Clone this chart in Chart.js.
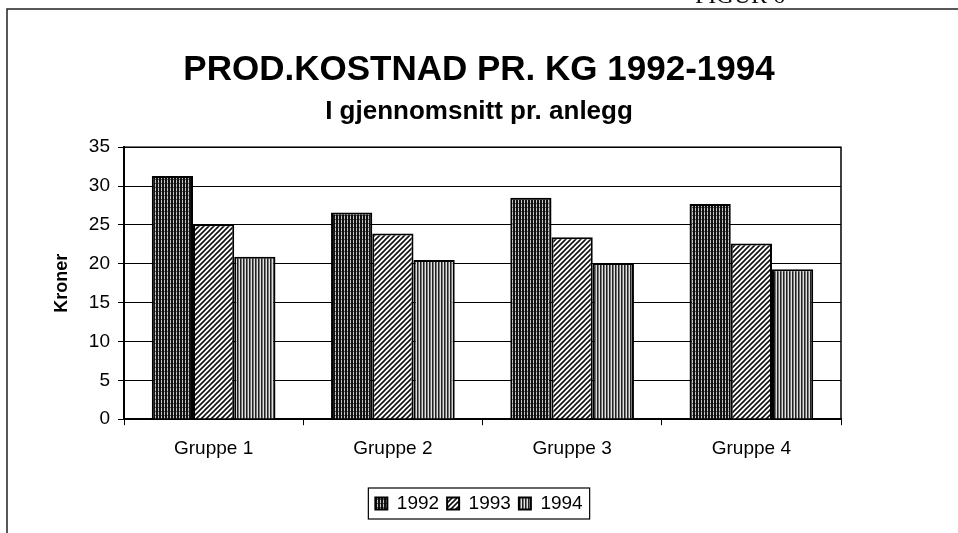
<!DOCTYPE html>
<html>
<head>
<meta charset="utf-8">
<script src="https://cdn.jsdelivr.net/npm/chart.js@4.4.1/dist/chart.umd.min.js"></script>
<style>
  html, body { margin: 0; padding: 0; background: #fff; }
  #wrap { width: 958px; height: 533px; position: relative; }
</style>
</head>
<body>
<div id="wrap"><canvas id="grafica"></canvas></div>
<script>
// data
const grupper = ['Gruppe 1', 'Gruppe 2', 'Gruppe 3', 'Gruppe 4'];
const aar = ['1992', '1993', '1994'];
const kost1992 = [31.3, 26.6, 28.5, 27.7];
const kost1993 = [25.1, 23.9, 23.4, 22.6];
const kost1994 = [20.9, 20.5, 20.1, 19.3];
const yTicks = [0, 5, 10, 15, 20, 25, 30, 35];

const FONT = 'Arial, "Liberation Sans", sans-serif';

// hatch patterns like the old b/w print
const lagMonster = (type) => {
    const c = document.createElement('canvas');
    const x = c.getContext('2d');
    if (type === 'tett') {
        c.width = 3; c.height = 4;
        x.fillStyle = '#c8c8c8'; x.fillRect(0, 0, 3, 4);
        x.fillStyle = '#111'; x.fillRect(0, 0, 2, 4);
        x.fillStyle = '#555'; x.fillRect(2, 3, 1, 1);
    } else if (type === 'skra') {
        c.width = 5; c.height = 5;
        x.fillStyle = '#fff'; x.fillRect(0, 0, 5, 5);
        x.strokeStyle = '#111'; x.lineWidth = 1.6;
        x.beginPath();
        x.moveTo(-1, 6); x.lineTo(6, -1);
        x.moveTo(-1, 1); x.lineTo(1, -1);
        x.moveTo(4, 6); x.lineTo(6, 4);
        x.stroke();
    } else {
        c.width = 3; c.height = 3;
        x.fillStyle = '#e0e0e0'; x.fillRect(0, 0, 3, 3);
        x.fillStyle = '#222'; x.fillRect(0, 0, 1, 3);
        x.fillStyle = '#777'; x.fillRect(1, 0, 1, 3);
    }
    return x.createPattern(c, 'repeat');
};

const rammePlugin = {
    id: 'ramme',
    beforeDraw(chart) {
        const ctx = chart.ctx;
        ctx.save();
        ctx.fillStyle = '#fff';
        ctx.fillRect(0, 0, chart.width, chart.height);
        // outer frame (left + top edge of the scanned page box)
        ctx.strokeStyle = '#222';
        ctx.lineWidth = 1.5;
        ctx.beginPath();
        ctx.moveTo(7, chart.height);
        ctx.lineTo(7, 9);
        ctx.lineTo(chart.width, 9);
        ctx.stroke();
        // cut off figure caption at the very top
        ctx.fillStyle = '#111';
        ctx.font = '24px "Liberation Serif", serif';
        ctx.textAlign = 'center';
        ctx.textBaseline = 'alphabetic';
        ctx.fillText('FIGUR 6', 740, 3);
        ctx.restore();
    },
    afterDraw(chart) {
        const ctx = chart.ctx;
        const a = chart.chartArea;
        ctx.save();
        ctx.strokeStyle = '#000';
        ctx.lineWidth = 1.5;
        ctx.strokeRect(a.left, a.top, a.right - a.left, a.bottom - a.top);
        // box round the legend
        const boxes = chart.legend.legendHitBoxes;
        if (boxes && boxes.length) {
            let l = Infinity, r = -Infinity, t = Infinity, b = -Infinity;
            boxes.forEach(h => {
                l = Math.min(l, h.left); r = Math.max(r, h.left + h.width);
                t = Math.min(t, h.top); b = Math.max(b, h.top + h.height);
            });
            ctx.lineWidth = 1.2;
            ctx.strokeRect(l - 7, t - 6, r - l + 14, b - t + 12);
        }
        ctx.restore();
    }
};

const ctx = document.getElementById('grafica').getContext('2d');
const grafica = new Chart(ctx, {
    type: 'bar',
    data: {
        labels: grupper,
        datasets: [
            { label: aar[0], data: kost1992, backgroundColor: lagMonster('tett'), borderColor: '#000', borderWidth: 2 },
            { label: aar[1], data: kost1993, backgroundColor: lagMonster('skra'), borderColor: '#000', borderWidth: 2 },
            { label: aar[2], data: kost1994, backgroundColor: lagMonster('linje'), borderColor: '#000', borderWidth: 2 }
        ]
    },
    options: {
        responsive: true,
        maintainAspectRatio: false,
        animation: false,
        datasets: { bar: { categoryPercentage: 0.69, barPercentage: 1.0 } },
        layout: { padding: { top: 39, left: 48, right: 48, bottom: 10 } },
        plugins: {
            title: {
                display: true,
                text: 'PROD.KOSTNAD PR. KG 1992-1994',
                color: '#000',
                font: { family: FONT, size: 35, weight: 'bold' },
                padding: { top: 10, bottom: 0 }
            },
            subtitle: {
                display: true,
                text: 'I gjennomsnitt pr. anlegg',
                color: '#000',
                font: { family: FONT, size: 26, weight: 'bold' },
                padding: { top: 5, bottom: 20 }
            },
            legend: {
                position: 'bottom',
                labels: {
                    color: '#000',
                    font: { family: FONT, size: 19 },
                    boxWidth: 12,
                    boxHeight: 12,
                    padding: 8
                }
            },
            tooltip: { enabled: false }
        },
        scales: {
            x: {
                afterFit: (s) => { s.height += 14; },
                grid: { display: true, drawOnChartArea: false, drawTicks: true, tickLength: 6, color: '#000', offset: true },
                border: { color: '#000', width: 2 },
                ticks: { color: '#000', font: { family: FONT, size: 19 }, padding: 12 }
            },
            y: {
                min: 0,
                max: 35,
                afterFit: (s) => { s.width = 76; },
                afterBuildTicks: (s) => { s.ticks = yTicks.map(v => ({ value: v })); },
                grid: { color: '#000', lineWidth: 1, tickLength: 6 },
                border: { color: '#000', width: 2 },
                ticks: { color: '#000', font: { family: FONT, size: 19 }, padding: 8 },
                title: {
                    display: true,
                    text: 'Kroner',
                    color: '#000',
                    font: { family: FONT, size: 18, weight: 'bold' },
                    padding: { top: 3, bottom: 0 }
                }
            },
            // empty right margin so titles centre on the page like the original
            hoyre: {
                position: 'right',
                display: true,
                afterFit: (s) => { s.width = 69; },
                grid: { display: false },
                border: { display: false },
                ticks: { display: false }
            }
        }
    },
    plugins: [rammePlugin]
});
</script>
</body>
</html>
